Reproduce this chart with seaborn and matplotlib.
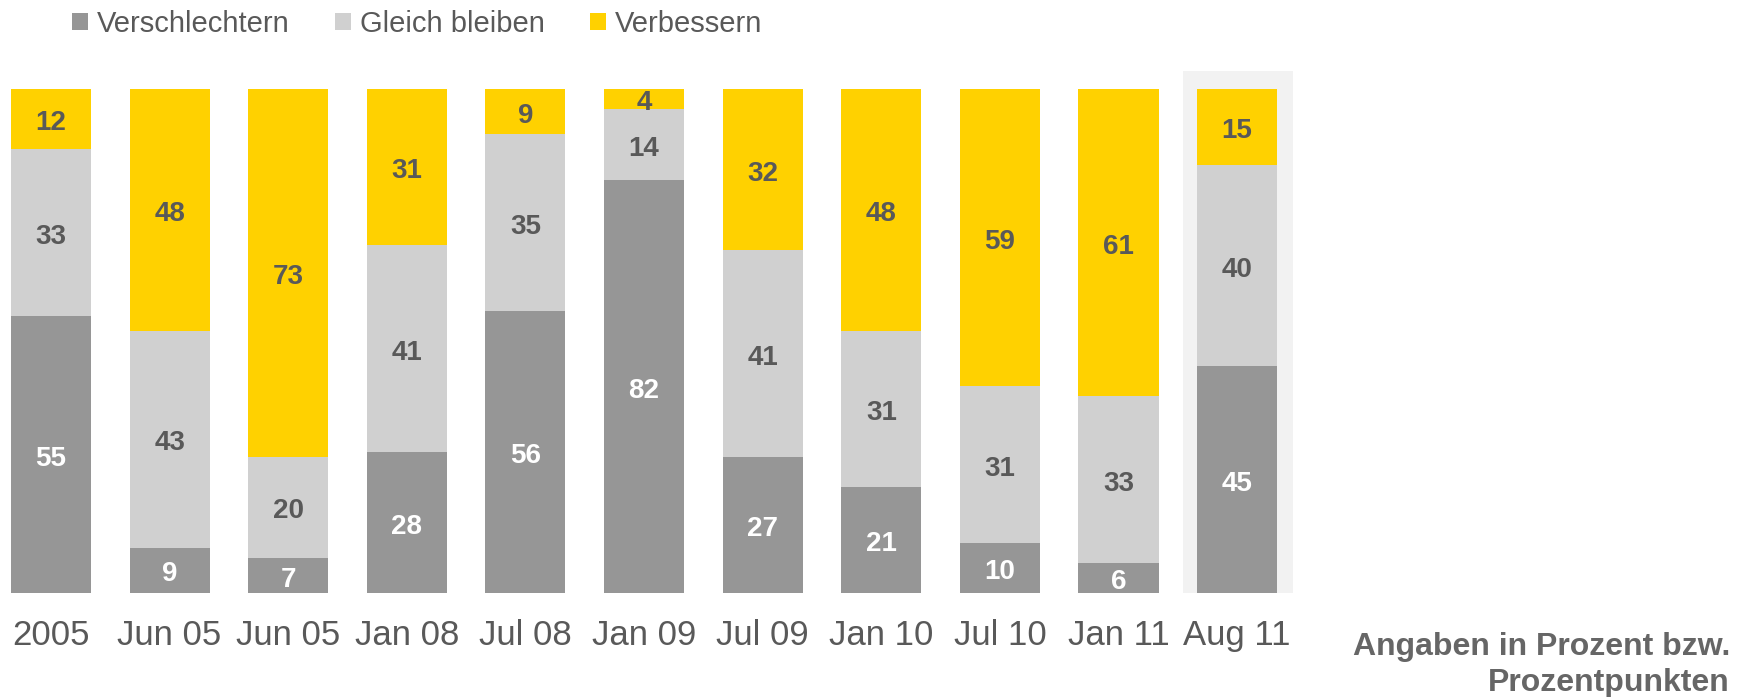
import matplotlib
matplotlib.use("Agg")
import matplotlib.pyplot as plt
import matplotlib.transforms as mtransforms
import seaborn as sns
import pandas as pd
from matplotlib.patches import Patch, Rectangle

categories = ["2005", "Jun 05", "Jun 05", "Jan 08", "Jul 08", "Jan 09",
              "Jul 09", "Jan 10", "Jul 10", "Jan 11", "Aug 11"]
verschlechtern = [55, 9, 7, 28, 56, 82, 27, 21, 10, 6, 45]
gleich_bleiben = [33, 43, 20, 41, 35, 14, 41, 31, 31, 33, 40]
verbessern = [12, 48, 73, 31, 9, 4, 32, 48, 59, 61, 15]
series_names = ["Verschlechtern", "Gleich bleiben", "Verbessern"]
colors = ["#969696", "#D0D0D0", "#FFD100"]
highlight_index = 10
note_lines = ["Angaben in Prozent bzw.", "Prozentpunkten"]

sns.set_theme(style="white")
plt.rcParams['font.family'] = ['Liberation Sans', 'DejaVu Sans']

TXT = "#595959"
W, H = 1747, 697
fig = plt.figure(figsize=(W / 100, H / 100), dpi=100)
ax = fig.add_axes([0, (H - 593) / H, 1300 / W, (593 - 89) / H])
ax.set_facecolor("none")

pos = list(range(len(categories)))
df = pd.DataFrame({"pos": pos, "v": verschlechtern, "g": gleich_bleiben, "b": verbessern})
df["c1"] = df["v"]
df["c2"] = df["v"] + df["g"]
df["c3"] = df["c2"] + df["b"]

# highlight background for last period
ax.add_patch(Rectangle((highlight_index - 0.455, 0), 0.925, 103.6,
                       facecolor="#F2F2F2", edgecolor="none", zorder=0, clip_on=False))

for col, color in zip(["c3", "c2", "c1"], colors[::-1]):
    sns.barplot(data=df, x="pos", y=col, color=color, width=0.675, ax=ax,
                saturation=1, errorbar=None, order=pos, linewidth=0, zorder=2)

# value labels
shift = mtransforms.offset_copy(ax.transData, fig=fig, x=0, y=-3, units="points")
for i in pos:
    v, g, b = verschlechtern[i], gleich_bleiben[i], verbessern[i]
    segs = [(v / 2, v, "white"), (v + g / 2, g, TXT), (v + g + b / 2, b, TXT)]
    for y, val, c in segs:
        ax.text(i, y, f"{val}", ha="center", va="center", fontsize=20,
                fontweight="bold", color=c, zorder=5, transform=shift)

ax.set_xlim(-0.43, 10.53)
ax.set_ylim(0, 100)
ax.set_xticks(pos)
ax.set_xticklabels(categories)
ax.set_yticks([])
ax.set_xlabel("")
ax.set_ylabel("")
ax.tick_params(axis="x", length=0, pad=19, labelsize=25, colors=TXT)
for s in ax.spines.values():
    s.set_visible(False)

handles = [Patch(facecolor=c, edgecolor="none", label=n) for c, n in zip(colors, series_names)]
fig.legend(handles=handles, loc="center left", bbox_to_anchor=(72 / W, 1 - 24 / H),
           ncol=3, frameon=False, fontsize=21, handlelength=0.55, handleheight=0.55,
           handletextpad=0.3, columnspacing=1.55, borderpad=0, borderaxespad=0,
           labelcolor=TXT)

fig.text(1730 / W, 1 - 655 / H, note_lines[0], ha="right", va="baseline",
         fontsize=23, fontweight="bold", color="#666666")
fig.text(1730 / W, 1 - 691 / H, note_lines[1], ha="right", va="baseline",
         fontsize=23, fontweight="bold", color="#666666")

fig.savefig("out.png", dpi=100)
